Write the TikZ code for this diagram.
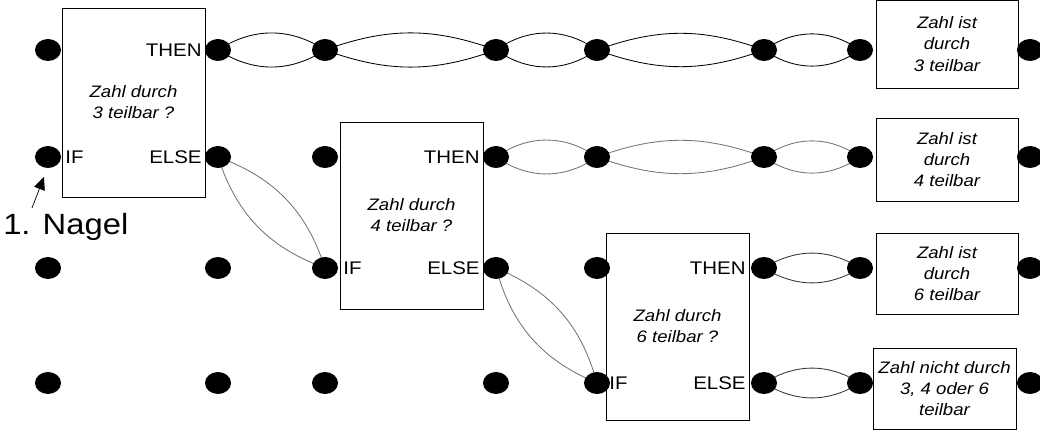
\documentclass[tikz,border=0pt]{standalone}
\usepackage{fontspec}
\setmainfont{Liberation Sans}[FakeStretch=1.12]
\usepackage{tikz}
\usetikzlibrary{shapes.geometric, arrows.meta, backgrounds}

\begin{document}
\begin{tikzpicture}[x=0.025cm, y=-0.025cm,
    chiodo/.style={ellipse, fill=black, inner sep=0pt, minimum width=0.65cm, minimum height=0.55cm},
    blocco/.style={draw, line width=0.6pt, inner sep=1pt, minimum width=3.575cm, align=center,
      font=\fontsize{11.8}{15}\selectfont\itshape},
    porta/.style={inner sep=2.5pt, font=\fontsize{13}{15}\selectfont},
    elastico/.style={line width=0.6pt}]

    \useasboundingbox (0,0) rectangle (1040,431);

    % Chiodi
    \foreach \r/\y in {1/50, 2/157, 3/268, 4/383}
      \foreach \c/\x in {1/48, 2/218, 3/325, 4/496, 5/597, 6/764, 7/860, 8/1030}
        \node[chiodo] (n\r\c) at (\x,\y) {};

    % Domande
    \node[blocco, minimum height=4.725cm] (b1) at (133.5,102.5) {Zahl durch\\3 teilbar ?};
    \node[blocco, minimum height=4.675cm] (b2) at (411.5,215.5) {Zahl durch\\4 teilbar ?};
    \node[blocco, minimum height=4.675cm] (b3) at (677.5,326.5) {Zahl durch\\6 teilbar ?};

    % Risultati
    \node[blocco, minimum width=3.55cm, minimum height=2.2cm] (r1) at (947,44) {Zahl ist\\durch\\3 teilbar};
    \node[blocco, minimum width=3.55cm, minimum height=2.075cm] (r2) at (947,159.5) {Zahl ist\\durch\\4 teilbar};
    \node[blocco, minimum width=3.55cm, minimum height=2.025cm] (r3) at (947,273.5) {Zahl ist\\durch\\6 teilbar};
    \node[blocco, minimum height=2.025cm] (r4) at (944.5,388.5) {Zahl nicht durch\\3, 4 oder 6\\teilbar};

    % Etichette
    \node[porta, anchor=east] (then1) at (b1.east |- n12) {THEN};
    \node[porta, anchor=east] (else1) at (b1.east |- n22) {ELSE};
    \node[porta, anchor=west] (if1) at (b1.west |- n21) {IF};
    \node[porta, anchor=east] (then2) at (b2.east |- n24) {THEN};
    \node[porta, anchor=west] (if2) at (b2.west |- n33) {IF};
    \node[porta, anchor=east] (else2) at (b2.east |- n34) {ELSE};
    \node[porta, anchor=east] (then3) at (b3.east |- n36) {THEN};
    \node[porta, anchor=west] (if3) at (b3.west |- n45) {IF};
    \node[porta, anchor=east] (else3) at (b3.east |- n46) {ELSE};

    % Elastici (sotto i chiodi)
    \begin{pgfonlayer}{background}
      \foreach \a/\b/\t/\col in {n12/n13/33/black, n13/n14/20/black, n14/n15/35/black,
          n15/n16/20/black, n16/n17/35/black,
          n24/n25/35/black!55, n25/n26/20/black!55, n26/n27/35/black!55,
          n22/n33/26/black!55, n34/n45/26/black!55,
          n36/n37/32/black!80, n46/n47/32/black!80}
        \draw[elastico, draw=\col] (\a.center) to[bend left=\t] (\b.center)
          to[bend left=\t] (\a.center);
    \end{pgfonlayer}

    % Primo chiodo
    \node[anchor=base west, inner sep=0pt, font=\fontsize{20.8}{24}\selectfont] (nagel) at (3,235) {1. Nagel};
    \coordinate (coda) at (32,208);
    \coordinate (punta) at (44,177);
    \draw[line width=0.5pt, -{Triangle[length=9pt, width=8pt]}] (coda) -- (punta);
\end{tikzpicture}
\end{document}
